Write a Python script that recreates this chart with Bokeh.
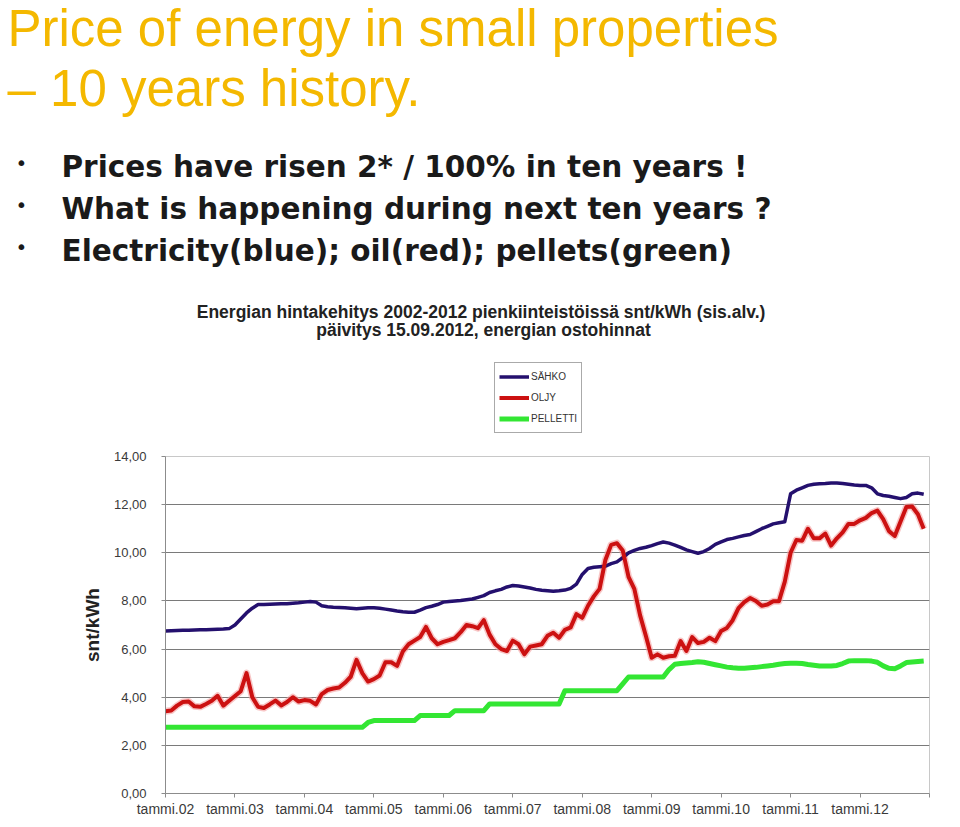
from bokeh.plotting import figure
from bokeh.layouts import column
from bokeh.models import Range1d, FixedTicker, Label, Legend, LegendItem
from bokeh.embed import file_html
from bokeh.resources import INLINE

# ---------------- data (monthly, Jan 2002 .. Dec 2012), snt/kWh ----------------
start_year = 2002

sahko = [
    6.75, 6.76, 6.77, 6.78, 6.78, 6.79, 6.80, 6.80, 6.81, 6.82, 6.83, 6.85,
    7.00, 7.25, 7.50, 7.70, 7.85, 7.85, 7.86, 7.87, 7.88, 7.88, 7.90, 7.92,
    7.95, 7.98, 7.95, 7.80, 7.76, 7.74, 7.73, 7.72, 7.70, 7.68, 7.70, 7.72,
    7.72, 7.70, 7.66, 7.62, 7.58, 7.55, 7.53, 7.53, 7.62, 7.72, 7.78, 7.85,
    7.95, 7.98, 8.00, 8.02, 8.05, 8.08, 8.15, 8.22, 8.35, 8.42, 8.48, 8.58,
    8.64, 8.62, 8.58, 8.54, 8.48, 8.44, 8.42, 8.40, 8.42, 8.45, 8.52, 8.70,
    9.10, 9.35, 9.40, 9.42, 9.44, 9.55, 9.62, 9.80, 10.00, 10.10, 10.18, 10.23,
    10.30, 10.38, 10.45, 10.40, 10.32, 10.22, 10.12, 10.05, 9.98, 10.05, 10.18, 10.35,
    10.45, 10.55, 10.60, 10.66, 10.72, 10.76, 10.88, 11.00, 11.10, 11.20, 11.25, 11.29,
    12.45, 12.60, 12.70, 12.80, 12.85, 12.87, 12.88, 12.90, 12.90, 12.88, 12.85, 12.82,
    12.80, 12.80, 12.70, 12.45, 12.38, 12.35, 12.30, 12.25, 12.30, 12.45, 12.48, 12.43,
]

oljy = [
    3.42, 3.45, 3.65, 3.80, 3.82, 3.62, 3.60, 3.72, 3.85, 4.06, 3.65, 3.85,
    4.05, 4.25, 5.00, 4.00, 3.60, 3.55, 3.70, 3.86, 3.66, 3.80, 4.00, 3.82,
    3.88, 3.85, 3.70, 4.13, 4.30, 4.36, 4.40, 4.60, 4.85, 5.55, 5.00, 4.65,
    4.75, 4.90, 5.45, 5.45, 5.30, 5.90, 6.20, 6.35, 6.50, 6.92, 6.45, 6.20,
    6.30, 6.37, 6.45, 6.70, 7.00, 6.95, 6.87, 7.20, 6.60, 6.20, 6.00, 5.92,
    6.35, 6.20, 5.78, 6.10, 6.15, 6.20, 6.55, 6.68, 6.47, 6.80, 6.90, 7.45,
    7.30, 7.80, 8.19, 8.50, 9.70, 10.33, 10.40, 10.10, 9.00, 8.50, 7.40, 6.54,
    5.64, 5.78, 5.64, 5.70, 5.72, 6.33, 5.92, 6.50, 6.25, 6.30, 6.47, 6.33,
    6.75, 6.88, 7.20, 7.70, 7.95, 8.12, 8.00, 7.80, 7.85, 7.99, 7.99, 8.80,
    10.00, 10.53, 10.50, 11.00, 10.60, 10.60, 10.80, 10.30, 10.60, 10.85, 11.20, 11.20,
    11.35, 11.45, 11.65, 11.75, 11.40, 10.90, 10.70, 11.30, 11.90, 11.92, 11.60, 11.00,
]

pelletti = [
    2.75, 2.75, 2.75, 2.75, 2.75, 2.75, 2.75, 2.75, 2.75, 2.75, 2.75, 2.75,
    2.75, 2.75, 2.75, 2.75, 2.75, 2.75, 2.75, 2.75, 2.75, 2.75, 2.75, 2.75,
    2.75, 2.75, 2.75, 2.75, 2.75, 2.75, 2.75, 2.75, 2.75, 2.75, 2.75, 2.95,
    3.03, 3.03, 3.03, 3.03, 3.03, 3.03, 3.03, 3.03, 3.24, 3.24, 3.24, 3.24,
    3.24, 3.24, 3.44, 3.44, 3.44, 3.44, 3.44, 3.44, 3.72, 3.72, 3.72, 3.72,
    3.72, 3.72, 3.72, 3.72, 3.72, 3.72, 3.72, 3.72, 3.72, 4.27, 4.27, 4.27,
    4.27, 4.27, 4.27, 4.27, 4.27, 4.27, 4.27, 4.55, 4.84, 4.84, 4.84, 4.84,
    4.84, 4.84, 4.84, 5.15, 5.37, 5.40, 5.42, 5.44, 5.47, 5.45, 5.40, 5.35,
    5.30, 5.25, 5.22, 5.20, 5.20, 5.22, 5.24, 5.27, 5.30, 5.33, 5.37, 5.40,
    5.41, 5.41, 5.40, 5.36, 5.33, 5.30, 5.30, 5.30, 5.32, 5.40, 5.50, 5.52,
    5.52, 5.52, 5.50, 5.45, 5.30, 5.20, 5.18, 5.30, 5.44, 5.46, 5.48, 5.50,
]

series_names = ["SÄHKO", "OLJY", "PELLETTI"]

x_ticks = [2002, 2003, 2004, 2005, 2006, 2007, 2008, 2009, 2010, 2011, 2012, 2013]
x_tick_labels = ["tammi.02", "tammi.03", "tammi.04", "tammi.05", "tammi.06", "tammi.07",
                 "tammi.08", "tammi.09", "tammi.10", "tammi.11", "tammi.12", ""]
y_ticks = [0, 2, 4, 6, 8, 10, 12, 14]
y_tick_labels = ["0,00", "2,00", "4,00", "6,00", "8,00", "10,00", "12,00", "14,00"]

slide_title = ["Price of energy in small properties", "\u2013 10 years history."]
bullets = ["Prices have risen 2* / 100% in ten years !",
           "What is happening during next ten years ?",
           "Electricity(blue); oil(red); pellets(green)"]
chart_title = ["Energian hintakehitys 2002-2012 pienkiinteistöissä  snt/kWh (sis.alv.)",
               "päivitys 15.09.2012, energian ostohinnat"]
y_label = "snt/kWh"

COLORS = ["#24106e", "#cc1111", "#33e633"]
WIDTHS = [3.5, 4, 5]

# ---------------- layout (page pixels) ----------------
W, H = 952, 819
HTOP = 440
FL, FR, FT, FB = 165, 929, 456, 795   # chart frame edges in page px


def no_align(fig):
    try:
        fig.frame_align = False
    except Exception:
        pass


# ---------- top figure: slide texts, chart title, legend ----------
top = figure(width=W, height=HTOP, output_backend="svg", toolbar_location=None,
             title_location=None,
             x_range=Range1d(0, W), y_range=Range1d(HTOP, 0),
             min_border=0, min_border_left=0, min_border_right=0,
             min_border_top=0, min_border_bottom=0,
             x_axis_location=None, y_axis_location=None)
no_align(top)
top.outline_line_color = None
top.grid.grid_line_color = None
top.background_fill_color = "white"
top.border_fill_color = "white"


def put(text, px, py, size, font, color, style="normal", align="left"):
    top.add_layout(Label(x=px, y=py, text=text, text_font=font, text_font_size=size,
                         text_font_style=style, text_color=color,
                         text_align=align, text_baseline="alphabetic"))


put(slide_title[0], 7, 28, "51px", "Liberation Sans", "#f4b800")
put(slide_title[1], 7, 88, "51px", "Liberation Sans", "#f4b800")
for i, b in enumerate(bullets):
    by = 166 + i * 42
    put("\u2022", 15, by - 4, "20px", "DejaVu Sans", "#1a1a1a")
    put(b, 61, by, "29.5px", "DejaVu Sans", "#1a1a1a", style="bold")
put(chart_title[0], 483, 311, "17.5px", "Liberation Sans", "#222222", style="bold", align="center")
put(chart_title[1], 483, 329, "17.5px", "Liberation Sans", "#222222", style="bold", align="center")

nan = float("nan")
dummies = [top.line([nan, nan], [nan, nan], line_color=c, line_width=w)
           for c, w in zip(COLORS, WIDTHS)]
legend = Legend(items=[LegendItem(label=n, renderers=[r]) for n, r in zip(series_names, dummies)],
                location=(494, HTOP - 433), margin=0, padding=4, spacing=2,
                glyph_width=30, glyph_height=19, label_height=19, label_standoff=2,
                label_text_font="Liberation Sans", label_text_font_size="10px",
                label_text_color="#333333", border_line_color="#555555",
                border_line_width=1, background_fill_color="white")
top.add_layout(legend)

# ---------- chart figure ----------
HB = H - HTOP
p = figure(width=W, height=HB, output_backend="svg", toolbar_location=None,
           title_location=None,
           x_range=Range1d(2002, 2013), y_range=Range1d(0, 14),
           min_border_left=FL, min_border_right=W - FR,
           min_border_top=FT - HTOP, min_border_bottom=H - FB)
no_align(p)
p.background_fill_color = "white"
p.border_fill_color = "white"
p.outline_line_color = "#c8c8c8"
p.outline_line_width = 1

xs = [start_year + i / 12 for i in range(len(sahko))]

p.line(xs, oljy, line_color="#f4a0a0", line_width=7, line_alpha=0.6, line_join="round")
p.line(xs, sahko, line_color=COLORS[0], line_width=WIDTHS[0], line_join="round")
p.line(xs, oljy, line_color=COLORS[1], line_width=WIDTHS[1], line_join="round")
p.line(xs, pelletti, line_color=COLORS[2], line_width=WIDTHS[2], line_join="round")

p.xaxis.ticker = FixedTicker(ticks=x_ticks)
p.xaxis.major_label_overrides = dict(zip(x_ticks, x_tick_labels))
p.yaxis.ticker = FixedTicker(ticks=y_ticks)
p.yaxis.major_label_overrides = dict(zip(y_ticks, y_tick_labels))
for ax in (p.xaxis[0], p.yaxis[0]):
    ax.axis_line_color = "#8c8c8c"
    ax.major_tick_line_color = "#8c8c8c"
    ax.major_tick_out = 4
    ax.major_tick_in = 0
    ax.minor_tick_line_color = None
    ax.major_label_text_font = "Liberation Sans"
    ax.major_label_text_color = "#3a3a3a"
p.xaxis.major_label_text_font_size = "14px"
p.yaxis.major_label_text_font_size = "13px"
p.xaxis.major_label_standoff = 3
p.yaxis.major_label_standoff = 15
p.yaxis.axis_label = y_label
p.yaxis.axis_label_text_font = "Liberation Sans"
p.yaxis.axis_label_text_font_style = "bold"
p.yaxis.axis_label_text_font_size = "19px"
p.yaxis.axis_label_text_color = "#222222"
p.yaxis.axis_label_standoff = 8

p.xgrid.grid_line_color = None
p.ygrid.ticker = FixedTicker(ticks=y_ticks[1:-1])
p.ygrid.grid_line_color = "#7a7a7a"
p.ygrid.grid_line_width = 1

layout = column(top, p, spacing=0)
open("out.html", "w").write(file_html(layout, INLINE))
